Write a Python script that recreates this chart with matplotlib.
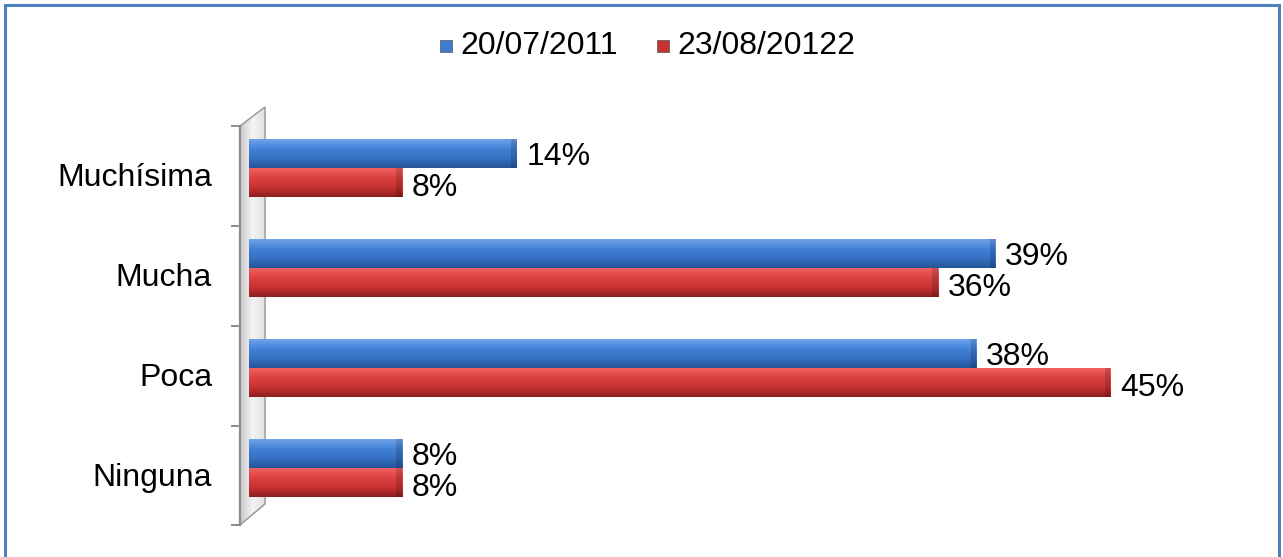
import numpy as np
import matplotlib
matplotlib.use("Agg")
import matplotlib.pyplot as plt
from matplotlib.patches import Polygon, Rectangle
from matplotlib.colors import LinearSegmentedColormap

plt.rcParams['font.family'] = ['Liberation Sans', 'DejaVu Sans']

categories = ['Muchísima', 'Mucha', 'Poca', 'Ninguna']
series_names = ['20/07/2011', '23/08/20122']
values_2011 = [14, 39, 38, 8]
values_2012 = [8, 36, 45, 8]

W, H = 1283, 557
fig = plt.figure(figsize=(W / 100, H / 100), dpi=100)

# pixel-space overlay for frame and wall
deco = fig.add_axes([0, 0, 1, 1])
deco.set_xlim(0, W)
deco.set_ylim(H, 0)
deco.axis('off')

# outer frame
deco.plot([5, 5, 1279, 1279], [560, 4.5, 4.5, 560], color='#4F81BD', lw=2.2,
          solid_joinstyle='miter')

# side wall with a soft gray gradient
wall = Polygon([(240, 126), (265, 107), (265, 504), (240, 525)], closed=True,
               facecolor='none', edgecolor='#A0A0A0', lw=1.2, zorder=2)
deco.add_patch(wall)
grad = np.linspace(0, 1, 64).reshape(1, -1)
wall_cmap = LinearSegmentedColormap.from_list('wall', ['#C8C8C8', '#F4F4F4', '#E2E2E2'])
img = deco.imshow(grad, extent=[240, 265, 525, 107], cmap=wall_cmap, aspect='auto', zorder=1)
img.set_clip_path(wall)
deco.plot([240, 240], [126, 525], color='#8C8C8C', lw=1.6, zorder=3)
for ty in [126, 226, 326, 426, 525]:
    deco.plot([232, 240], [ty, ty], color='#8C8C8C', lw=1.4, zorder=3)

# data axes: x=0 at pixel 249, 19.14 px per percent
x0_px, x1_px = 249, 1200
y_top, y_bot = 127, 525
ax = fig.add_axes([x0_px / W, 1 - y_bot / H, (x1_px - x0_px) / W, (y_bot - y_top) / H])
ax.axis('off')
ax.patch.set_alpha(0)

bar_h = 0.29
ypos = np.arange(len(categories))

# gradient runs top (light) -> bottom (dark)
blue_cmap = LinearSegmentedColormap.from_list('b', ['#6FA3EA', '#4282D6', '#3570C2', '#24559A'])
red_cmap = LinearSegmentedColormap.from_list('r', ['#F06060', '#DC4040', '#C83232', '#8E1F1F'])

def shaded_bars(ys, vals, base, cmap):
    bars = ax.barh(ys, vals, height=bar_h, color=base, edgecolor='none', zorder=3)
    shade = np.linspace(0, 1, 64).reshape(-1, 1)
    for b in bars:
        x, y = b.get_x(), b.get_y()
        w, h = b.get_width(), b.get_height()
        # y axis is inverted: extent goes from bar top (y) to bar bottom (y + h)
        im = ax.imshow(shade, extent=[x, x + w, y + h, y], cmap=cmap,
                       aspect='auto', zorder=4, origin='upper')
        im.set_clip_path(b)
        # darker end cap
        ax.add_patch(Rectangle((x + w - 0.3, y), 0.3, h, facecolor='black',
                               alpha=0.15, edgecolor='none', zorder=5))
    return bars

ax.set_ylim((y_bot - 168) / 100, (y_top - 168) / 100)
shaded_bars(ypos - bar_h / 2, values_2011, '#3E7BCF', blue_cmap)
shaded_bars(ypos + bar_h / 2, values_2012, '#D83B3B', red_cmap)
ax.set_xlim(0, (x1_px - x0_px) / 19.14)
ax.set_ylim((y_bot - 168) / 100, (y_top - 168) / 100)

for i in range(len(categories)):
    ax.text(values_2011[i] + 0.5, ypos[i] - bar_h / 2 + 0.03, f'{values_2011[i]}%',
            va='center', ha='left', fontsize=23, color='black', zorder=6)
    ax.text(values_2012[i] + 0.5, ypos[i] + bar_h / 2 + 0.05, f'{values_2012[i]}%',
            va='center', ha='left', fontsize=23, color='black', zorder=6)

# category labels
for i, cat in enumerate(categories):
    deco.text(212, 178 + 100 * i, cat, ha='right', va='center', fontsize=23, color='black')

# legend
for lx, name, col in [(440, series_names[0], '#3E7BCF'), (657, series_names[1], '#C83232')]:
    deco.add_patch(Rectangle((lx, 40), 12, 12, facecolor=col, edgecolor='#555555', lw=0.5))
    deco.text(lx + 20, 46, name, ha='left', va='center', fontsize=23, color='black')

fig.savefig('out.png', dpi=100)
